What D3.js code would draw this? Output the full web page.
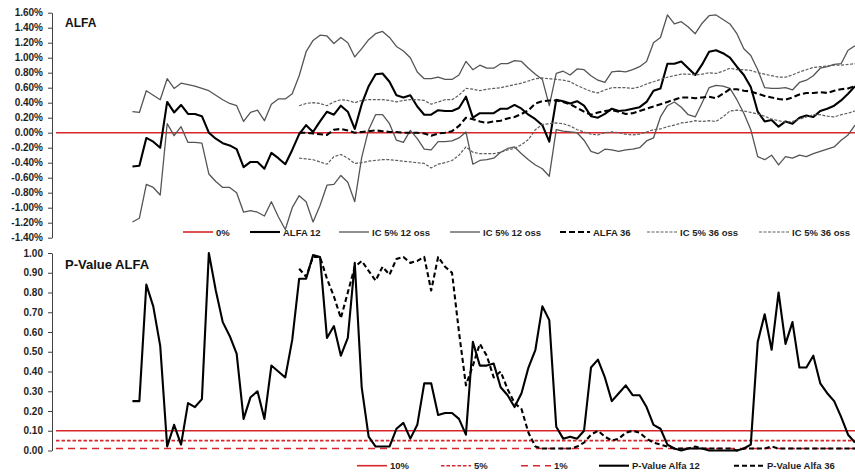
<!DOCTYPE html>
<html lang="it">
<head>
<meta charset="UTF-8">
<title>ALFA - P-Value ALFA</title>
<script src="https://d3js.org/d3.v7.min.js"></script>
<style>
  body { margin: 0; background: #fff; }
  svg text { font-family: "Liberation Sans", Arial, sans-serif; font-weight: bold; }
</style>
</head>
<body>
<div id="chart"></div>
<script>
// observation index along the x axis (no labels shown on the original)
const periods = d3.range(116);
const start12 = 11;   // first observation of the 12-obs window
const start36 = 35;   // first observation of the 36-obs window

// values in %
const alfa12 = [-0.45,-0.44,-0.07,-0.12,-0.20,0.41,0.27,0.37,0.25,0.25,0.22,0.00,-0.08,-0.14,-0.17,-0.22,-0.46,-0.39,-0.39,-0.48,
  -0.27,-0.34,-0.42,-0.23,-0.02,0.10,0.01,0.15,0.28,0.24,0.36,0.28,0.05,0.38,0.62,0.78,0.79,0.68,0.50,0.47,
  0.50,0.35,0.24,0.24,0.30,0.29,0.29,0.33,0.48,0.20,0.26,0.26,0.26,0.32,0.32,0.37,0.32,0.24,0.18,0.10,
  -0.12,0.44,0.42,0.39,0.42,0.36,0.22,0.20,0.25,0.32,0.29,0.30,0.32,0.34,0.41,0.56,0.59,0.92,0.92,0.95,
  0.86,0.77,0.91,1.08,1.10,1.06,1.00,0.88,0.77,0.61,0.28,0.15,0.17,0.08,0.15,0.12,0.20,0.23,0.21,0.29,
  0.32,0.36,0.43,0.52,0.62];
const ic12Up = [0.28,0.27,0.56,0.50,0.44,0.72,0.59,0.66,0.64,0.62,0.59,0.56,0.50,0.44,0.39,0.36,0.15,0.27,0.30,0.16,
  0.38,0.45,0.45,0.52,0.76,1.08,1.23,1.30,1.29,1.19,1.27,1.20,1.01,1.12,1.24,1.32,1.35,1.27,1.15,1.09,
  1.00,0.81,0.72,0.72,0.74,0.71,0.71,0.77,0.95,0.84,0.90,0.86,0.86,0.92,0.92,0.96,0.95,0.86,0.78,0.71,
  0.36,0.79,0.82,0.77,0.85,0.84,0.76,0.70,0.67,0.81,0.82,0.81,0.84,0.88,0.95,1.20,1.27,1.57,1.45,1.48,
  1.41,1.32,1.46,1.56,1.57,1.51,1.45,1.32,1.12,1.03,0.84,0.60,0.59,0.59,0.60,0.57,0.67,0.70,0.76,0.86,
  0.88,0.91,0.92,1.10,1.16];
const ic12Low = [-1.19,-1.14,-0.69,-0.73,-0.83,0.12,-0.04,0.08,-0.13,-0.13,-0.14,-0.55,-0.65,-0.73,-0.73,-0.80,-1.06,-1.04,-1.06,-1.11,
  -0.92,-1.12,-1.29,-1.00,-0.84,-0.92,-1.19,-0.97,-0.70,-0.69,-0.57,-0.66,-0.92,-0.33,0.04,0.24,0.24,0.12,-0.10,-0.13,
  0.03,-0.08,-0.22,-0.23,-0.12,-0.12,-0.11,-0.07,0.01,-0.42,-0.37,-0.36,-0.34,-0.26,-0.21,-0.19,-0.28,-0.36,-0.43,-0.48,
  -0.58,0.04,0.02,0.01,0.00,-0.10,-0.25,-0.28,-0.22,-0.23,-0.25,-0.23,-0.22,-0.20,-0.11,-0.07,0.21,0.36,0.41,0.34,
  0.24,0.21,0.40,0.60,0.63,0.62,0.59,0.44,0.26,0.04,-0.32,-0.36,-0.30,-0.43,-0.32,-0.34,-0.30,-0.32,-0.28,-0.25,
  -0.22,-0.19,-0.10,-0.03,0.10];
const alfa36 = [0.00,0.00,-0.01,-0.02,-0.03,0.04,0.05,0.03,0.00,0.01,0.02,0.03,0.02,0.01,0.01,0.00,0.00,0.00,-0.01,-0.04,
  -0.01,0.00,0.02,0.09,0.20,0.18,0.15,0.13,0.15,0.16,0.19,0.21,0.25,0.30,0.39,0.42,0.43,0.43,0.41,0.38,
  0.33,0.28,0.24,0.27,0.29,0.30,0.28,0.25,0.26,0.29,0.32,0.35,0.38,0.41,0.44,0.47,0.47,0.46,0.47,0.48,
  0.46,0.52,0.58,0.58,0.56,0.55,0.52,0.49,0.47,0.45,0.44,0.47,0.51,0.53,0.53,0.54,0.53,0.56,0.58,0.59,
  0.62];
const ic36Up = [0.36,0.39,0.40,0.39,0.36,0.41,0.44,0.43,0.40,0.43,0.44,0.44,0.44,0.43,0.41,0.43,0.44,0.44,0.43,0.38,
  0.41,0.44,0.44,0.50,0.59,0.58,0.56,0.58,0.59,0.60,0.62,0.64,0.66,0.69,0.72,0.73,0.72,0.71,0.70,0.68,
  0.63,0.59,0.55,0.53,0.57,0.60,0.60,0.60,0.59,0.61,0.65,0.68,0.71,0.74,0.76,0.78,0.78,0.77,0.78,0.80,
  0.79,0.82,0.86,0.84,0.84,0.83,0.80,0.78,0.76,0.74,0.74,0.77,0.81,0.84,0.87,0.88,0.89,0.90,0.90,0.91,
  0.92];
const ic36Low = [-0.34,-0.35,-0.36,-0.39,-0.42,-0.32,-0.29,-0.34,-0.41,-0.40,-0.38,-0.37,-0.36,-0.36,-0.37,-0.38,-0.39,-0.40,-0.41,-0.47,
  -0.42,-0.40,-0.37,-0.30,-0.19,-0.26,-0.28,-0.28,-0.28,-0.26,-0.23,-0.21,-0.16,-0.09,0.04,0.11,0.12,0.13,0.12,0.09,
  0.04,0.01,-0.02,-0.03,0.00,0.01,0.00,-0.02,-0.03,-0.02,0.01,0.04,0.05,0.08,0.10,0.13,0.14,0.16,0.15,0.16,
  0.15,0.21,0.29,0.30,0.29,0.27,0.25,0.22,0.18,0.16,0.14,0.15,0.18,0.21,0.24,0.24,0.22,0.21,0.24,0.26,
  0.29];

// p-values
const pAlfa12 = [0.25,0.25,0.84,0.73,0.53,0.02,0.13,0.03,0.24,0.22,0.26,1.00,0.81,0.65,0.58,0.49,0.16,0.27,0.30,0.16,
  0.43,0.40,0.37,0.56,0.87,0.87,0.99,0.98,0.57,0.63,0.48,0.57,0.95,0.32,0.07,0.02,0.02,0.02,0.11,0.14,
  0.06,0.13,0.34,0.34,0.18,0.19,0.19,0.16,0.08,0.55,0.43,0.43,0.44,0.32,0.28,0.22,0.29,0.42,0.51,0.73,
  0.66,0.12,0.06,0.07,0.06,0.10,0.42,0.46,0.37,0.25,0.29,0.33,0.28,0.28,0.22,0.13,0.11,0.03,0.01,0.00,
  0.01,0.01,0.01,0.00,0.00,0.00,0.00,0.00,0.01,0.03,0.55,0.69,0.51,0.80,0.54,0.65,0.42,0.42,0.48,0.34,
  0.29,0.25,0.17,0.08,0.04];
const pAlfa36 = [0.92,0.88,0.98,0.98,0.87,0.78,0.67,0.80,0.93,0.96,0.91,0.86,0.93,0.89,0.97,0.98,0.95,0.96,0.98,0.81,
  0.98,0.93,0.90,0.60,0.33,0.43,0.54,0.48,0.37,0.40,0.31,0.24,0.21,0.09,0.02,0.01,0.01,0.01,0.01,0.01,
  0.02,0.04,0.08,0.10,0.07,0.05,0.06,0.09,0.10,0.09,0.06,0.04,0.03,0.02,0.01,0.01,0.01,0.02,0.01,0.01,
  0.01,0.01,0.01,0.00,0.01,0.01,0.01,0.01,0.02,0.01,0.01,0.01,0.01,0.01,0.01,0.01,0.01,0.01,0.01,0.01,
  0.01];

const pThresholds = [0.10, 0.05, 0.01];
const alfaTicks = [1.6, 1.4, 1.2, 1.0, 0.8, 0.6, 0.4, 0.2, 0, -0.2, -0.4, -0.6, -0.8, -1.0, -1.2, -1.4];
const pTicks = [1.0, 0.9, 0.8, 0.7, 0.6, 0.5, 0.4, 0.3, 0.2, 0.1, 0];

const RED = "#d9262b";
const styles = {
  zero:   { stroke: RED, width: 1.6, dash: null },
  alfa12: { stroke: "#000", width: 2.1, dash: null },
  ic12:   { stroke: "#555", width: 1.3, dash: null },
  alfa36: { stroke: "#000", width: 2.1, dash: "6,3" },
  ic36:   { stroke: "#5e5e5e", width: 1.2, dash: "3,1.5" },
  p10:    { stroke: RED, width: 1.6, dash: null },
  p5:     { stroke: RED, width: 1.6, dash: "3.5,2" },
  p1:     { stroke: RED, width: 1.6, dash: "7,5" },
  p12:    { stroke: "#000", width: 2.1, dash: null },
  p36:    { stroke: "#000", width: 2.1, dash: "5,3" }
};

const svg = d3.select("#chart").append("svg").attr("width", 855).attr("height", 475);

const x = d3.scalePoint().domain(periods).range([56, 855]);
const yTop = d3.scaleLinear().domain([-1.4, 1.6]).range([237.7, 12.7]);
const yBot = d3.scaleLinear().domain([0, 1]).range([450.5, 253]);

function toPoints(values, start) {
  return values.map((v, k) => [periods[start + k], v]);
}

function drawSeries(points, y, st) {
  const line = d3.line().x(d => x(d[0])).y(d => y(d[1]));
  svg.append("path")
    .datum(points)
    .attr("d", line)
    .attr("fill", "none")
    .attr("stroke", st.stroke)
    .attr("stroke-width", st.width)
    .attr("stroke-dasharray", st.dash)
    .attr("stroke-linejoin", "round");
}

function styleAxis(g) {
  g.select(".domain").attr("stroke", "#404040");
  g.selectAll(".tick line").attr("stroke", "#404040");
  g.selectAll(".tick text")
    .attr("fill", "#1f1f1f")
    .style("font-size", "10px")
    .style("font-family", '"Liberation Sans", Arial, sans-serif')
    .style("font-weight", "bold");
}

// ---- top panel: ALFA ----
svg.append("g")
  .attr("transform", "translate(52,0)")
  .call(d3.axisLeft(yTop).tickValues(alfaTicks)
    .tickFormat(d => d.toFixed(2) + "%").tickSize(4).tickSizeOuter(0).tickPadding(5))
  .call(styleAxis);

drawSeries(periods.map(p => [p, 0]), yTop, styles.zero);
drawSeries(toPoints(alfa12, start12), yTop, styles.alfa12);
drawSeries(toPoints(ic12Up, start12), yTop, styles.ic12);
drawSeries(toPoints(ic12Low, start12), yTop, styles.ic12);
drawSeries(toPoints(alfa36, start36), yTop, styles.alfa36);
drawSeries(toPoints(ic36Up, start36), yTop, styles.ic36);
drawSeries(toPoints(ic36Low, start36), yTop, styles.ic36);

svg.append("text").attr("x", 65).attr("y", 27).style("font-size", "12px").attr("fill", "#111").text("ALFA");

// ---- bottom panel: P-Value ALFA ----
svg.append("g")
  .attr("transform", "translate(52,0)")
  .call(d3.axisLeft(yBot).tickValues(pTicks)
    .tickFormat(d => d.toFixed(2)).tickSize(4).tickSizeOuter(0).tickPadding(5))
  .call(styleAxis);

drawSeries(periods.map(p => [p, pThresholds[0]]), yBot, styles.p10);
drawSeries(periods.map(p => [p, pThresholds[1]]), yBot, styles.p5);
drawSeries(periods.map(p => [p, pThresholds[2]]), yBot, styles.p1);
drawSeries(toPoints(pAlfa12, start12), yBot, styles.p12);
drawSeries(toPoints(pAlfa36, start36), yBot, styles.p36);

svg.append("text").attr("x", 65).attr("y", 269).style("font-size", "13px").attr("fill", "#111").text("P-Value ALFA");

// ---- legends ----
function legend(items, textX, yc) {
  items.forEach((it, k) => {
    const tx = textX[k];
    svg.append("line")
      .attr("x1", tx - 33).attr("x2", tx - 3).attr("y1", yc).attr("y2", yc)
      .attr("stroke", it.st.stroke)
      .attr("stroke-width", it.st.width)
      .attr("stroke-dasharray", it.st.dash);
    svg.append("text")
      .attr("x", tx).attr("y", yc + 3.5)
      .attr("fill", "#1f1f1f")
      .style("font-size", "9.5px")
      .text(it.name);
  });
}

legend([
  { name: "0%", st: styles.zero },
  { name: "ALFA 12", st: styles.alfa12 },
  { name: "IC 5% 12 oss", st: styles.ic12 },
  { name: "IC 5% 12 oss", st: styles.ic12 },
  { name: "ALFA 36", st: styles.alfa36 },
  { name: "IC 5% 36 oss", st: styles.ic36 },
  { name: "IC 5% 36 oss", st: styles.ic36 }
], [216, 283, 372, 483, 593, 680, 792], 232);

legend([
  { name: "10%", st: styles.p10 },
  { name: "5%", st: styles.p5 },
  { name: "1%", st: styles.p1 },
  { name: "P-Value Alfa 12", st: styles.p12 },
  { name: "P-Value Alfa 36", st: styles.p36 }
], [390, 474, 554, 632, 767], 465.7);
</script>
</body>
</html>
